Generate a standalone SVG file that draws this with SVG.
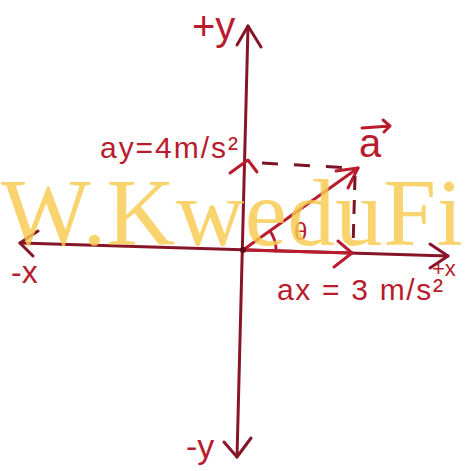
<svg xmlns="http://www.w3.org/2000/svg" width="465" height="471" viewBox="0 0 465 471">
<defs>
<style>
.ax{fill:none;stroke:#861527;stroke-width:3;stroke-linecap:round;stroke-linejoin:round}
.vec{fill:none;stroke:#b81c2e;stroke-width:3;stroke-linecap:round;stroke-linejoin:round}
.dash{fill:none;stroke:#7a1424;stroke-width:3;stroke-dasharray:16 16}
.lbl{font-family:"Liberation Sans",Arial,sans-serif;fill:#b81c2e}
.wm{font-family:"Liberation Serif","Times New Roman",serif;font-size:95px;fill:#f7c94e;fill-opacity:0.82}
</style>
</defs>
<rect width="465" height="471" fill="#ffffff"/>
<g id="connectors">
  <g id="y-axis">
    <path class="ax" d="M248,26 L237,457"/>
    <path class="ax" d="M237,45 L248,26 L261,47"/>
    <path class="ax" d="M224,442 L237,457 L251,438"/>
  </g>
  <g id="x-axis">
    <path class="ax" d="M20,243 L448,256"/>
    <path class="ax" d="M38,231 L20,243 L33,256"/>
    <path class="ax" d="M430,244 L448,256 L430,268"/>
  </g>
  <g id="vector-a">
    <path class="vec" d="M243,250 L358,168"/>
    <path class="vec" d="M336,171 L358,168 L348,188"/>
  </g>
  <g id="component-ay">
    <path class="vec" d="M230,173 L248,160 L257,172"/>
    <path class="dash" d="M262,163 L352,168"/>
  </g>
  <g id="component-ax">
    <path class="vec" d="M243,250 L352,253"/>
    <path class="vec" d="M338,241 L352,253 L334,267"/>
    <path class="dash" d="M355,176 L353,248" style="stroke-dasharray:14 10"/>
  </g>
  <g id="angle">
    <path class="vec" d="M276,251 A33,33 0 0 0 270,231"/>
    <circle cx="243" cy="250" r="3" fill="#5a0c18"/>
  </g>
</g>
<g id="label-plus-y"><text class="lbl" x="192" y="40" font-size="40">+y</text></g>
<g id="label-minus-y"><text class="lbl" x="186" y="458" font-size="34">-y</text></g>
<g id="label-minus-x"><text class="lbl" x="11" y="283" font-size="32">-x</text></g>
<g id="label-plus-x"><text class="lbl" x="432" y="276" font-size="22">+x</text></g>
<g id="label-ay"><text class="lbl" x="100" y="158" font-size="30" textLength="138" lengthAdjust="spacing">ay=4m/s²</text></g>
<g id="label-ax"><text class="lbl" x="277" y="300" font-size="30" textLength="166" lengthAdjust="spacing">ax = 3 m/s²</text></g>
<g id="label-a">
  <text class="lbl" x="359" y="157" font-size="40">a</text>
  <path class="vec" d="M362,128 L390,126 M383,120 L390,126 L384,132"/>
</g>
<g id="label-theta"><text class="lbl" x="294" y="240" font-size="24">θ</text></g>
<text class="wm" x="1" y="245" textLength="462" lengthAdjust="spacing">W.KweduFi</text>
</svg>
